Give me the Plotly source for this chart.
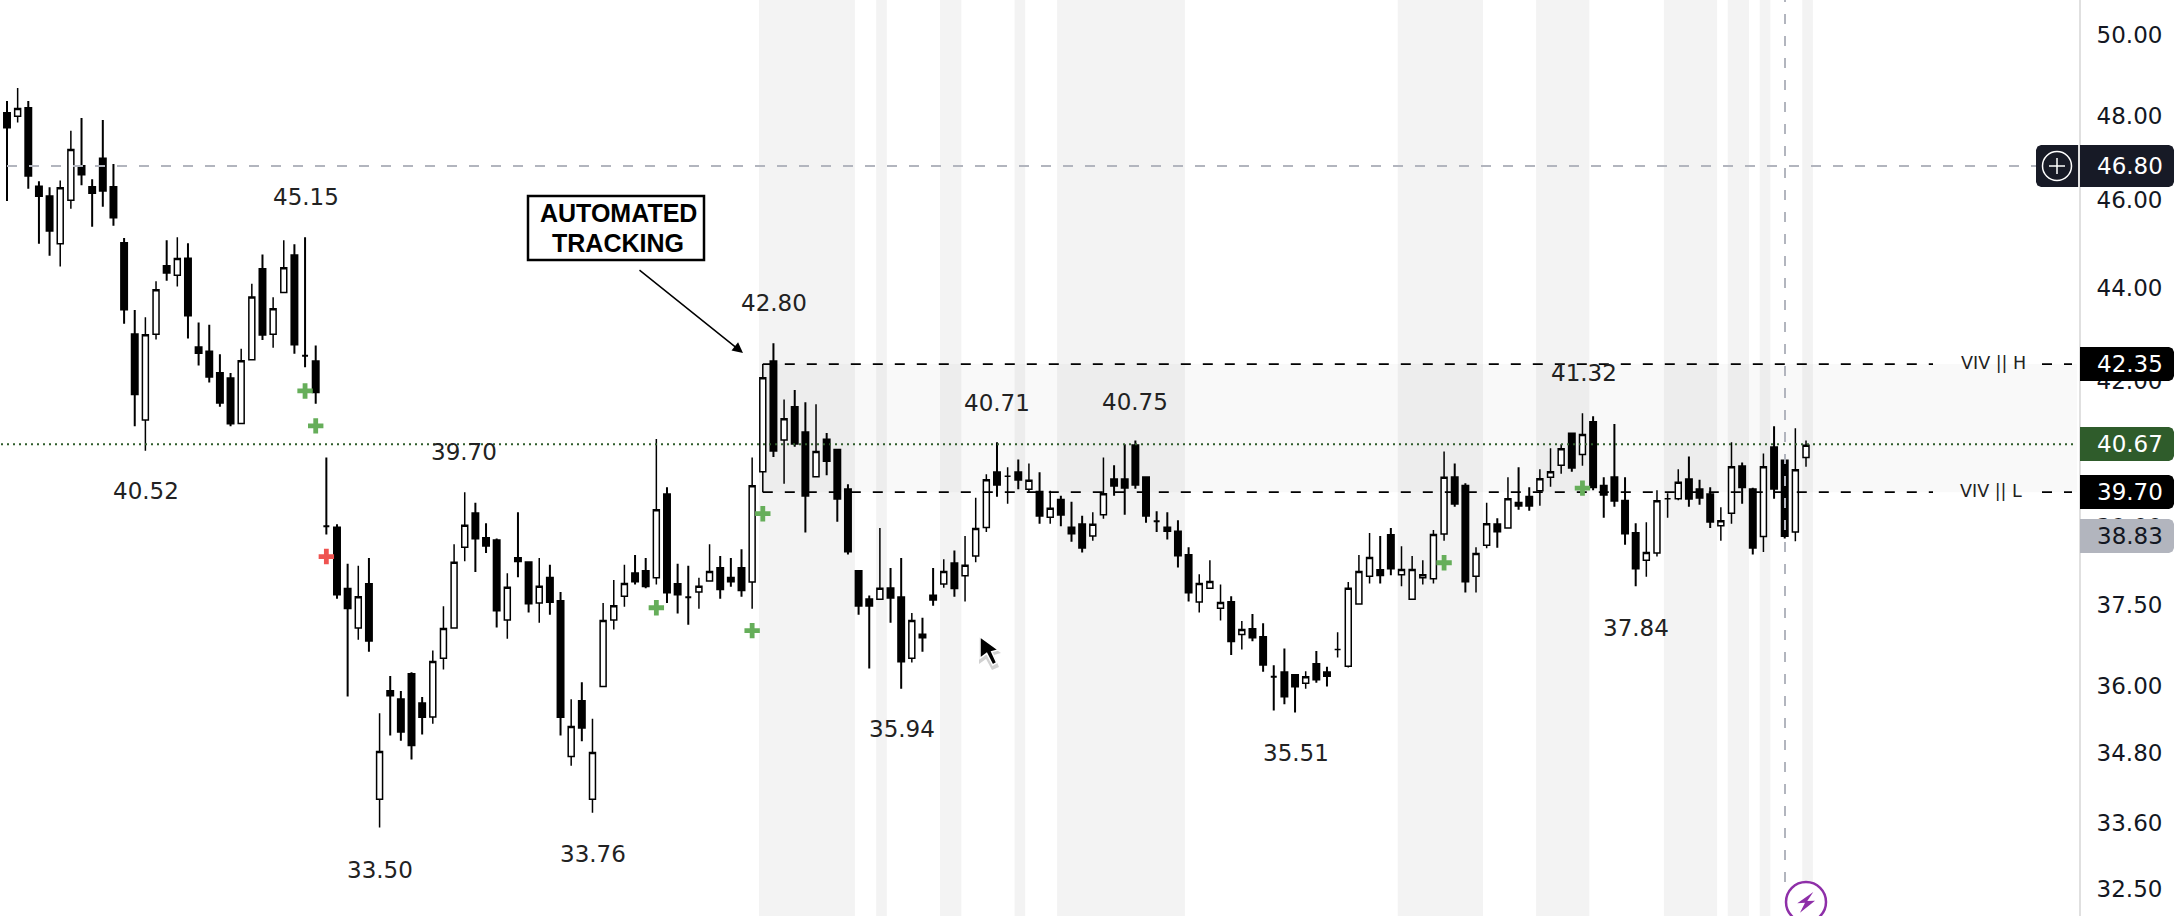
import plotly.graph_objects as go

open_prices = [
    48.07, 47.99, 48.19, 46.32, 46.09, 45.00, 46.00, 46.80, 46.31, 46.98,
    46.31, 45.02, 42.99, 41.17, 42.99, 44.50, 44.29, 44.67, 42.71, 42.62,
    42.16, 42.05, 41.10, 42.44, 44.43, 42.99, 43.91, 44.74, 42.53, 42.41,
    39.02, 39.00, 37.81, 37.07, 37.90, 34.00, 35.91, 35.76, 36.22, 35.69,
    35.44, 36.51, 37.07, 38.61, 39.28, 38.79, 38.75, 37.22, 38.40, 38.32,
    37.54, 38.02, 37.58, 34.74, 35.73, 34.00, 35.99, 37.22, 37.67, 38.11,
    38.15, 38.02, 39.66, 37.90, 37.65, 37.75, 37.96, 38.21, 38.02, 38.21,
    37.94, 40.11, 42.41, 40.76, 41.44, 40.92, 40.01, 40.77, 40.56, 39.76,
    38.15, 37.61, 37.61, 37.82, 37.65, 36.51, 36.95, 37.68, 37.90, 38.30,
    38.06, 38.44, 39.00, 40.10, 40.02, 40.10, 39.76, 39.71, 39.20, 39.55,
    39.00, 39.06, 38.83, 39.25, 39.96, 39.96, 40.65, 40.00, 39.12, 39.00,
    38.92, 38.46, 37.56, 37.82, 37.44, 37.56, 36.95, 37.05, 36.90, 36.17,
    36.25, 36.20, 36.05, 36.40, 36.25, 36.67, 36.36, 37.52, 38.05, 38.17,
    38.85, 38.08, 37.61, 38.02, 38.00, 38.87, 40.00, 39.83, 38.05, 38.65,
    39.06, 38.99, 39.49, 39.61, 39.73, 40.00, 40.24, 40.89, 40.46, 41.13,
    39.83, 40.00, 39.53, 38.89, 38.36, 38.50, 39.57, 39.57, 39.96, 39.76,
    39.66, 39.03, 39.28, 40.22, 39.76, 38.82, 40.61, 40.34, 38.91, 40.40,
]
high_prices = [
    48.36, 48.68, 48.36, 46.44, 46.30, 46.46, 47.64, 47.95, 46.49, 47.90,
    46.85, 45.13, 43.52, 43.36, 44.16, 45.08, 45.15, 45.01, 43.25, 43.20,
    42.56, 42.16, 42.68, 44.10, 44.76, 43.80, 45.08, 44.99, 45.15, 42.75,
    40.40, 39.06, 38.29, 38.25, 38.40, 35.51, 36.18, 35.91, 36.25, 35.80,
    36.65, 37.48, 38.67, 39.70, 39.49, 39.08, 38.78, 38.11, 39.30, 38.32,
    38.40, 38.27, 37.75, 35.76, 36.07, 35.41, 37.54, 37.98, 38.27, 38.46,
    38.40, 40.78, 39.80, 38.29, 38.25, 38.02, 38.67, 38.44, 38.40, 38.57,
    40.40, 42.35, 42.80, 41.60, 41.80, 41.54, 41.50, 40.90, 40.56, 39.86,
    38.15, 37.68, 38.99, 38.21, 38.40, 37.35, 37.26, 38.21, 38.38, 38.55,
    38.83, 39.59, 40.06, 40.71, 40.20, 40.36, 40.28, 40.10, 39.73, 39.63,
    39.51, 39.23, 39.30, 40.40, 40.24, 40.67, 40.75, 40.00, 39.32, 39.30,
    39.14, 38.61, 38.09, 38.36, 37.89, 37.67, 37.20, 37.33, 37.16, 36.38,
    36.69, 36.20, 36.27, 36.64, 36.35, 36.99, 37.94, 38.46, 38.89, 38.83,
    38.99, 38.63, 38.44, 38.36, 38.95, 40.52, 40.28, 39.88, 38.61, 39.49,
    39.18, 40.00, 40.20, 39.80, 40.16, 40.59, 40.67, 40.89, 41.31, 41.25,
    40.00, 41.09, 40.00, 39.08, 39.10, 39.74, 39.68, 40.16, 40.42, 39.95,
    39.80, 39.40, 40.71, 40.30, 39.79, 40.48, 41.04, 40.34, 41.00, 40.75,
]
low_prices = [
    45.98, 47.84, 46.27, 45.00, 44.73, 44.49, 45.80, 46.35, 45.39, 45.85,
    45.41, 43.22, 41.04, 40.54, 42.88, 44.17, 44.04, 42.90, 42.32, 41.96,
    41.45, 41.04, 41.10, 42.44, 42.87, 42.70, 43.91, 42.57, 42.28, 41.51,
    38.86, 37.62, 35.81, 36.85, 36.63, 33.52, 35.11, 35.02, 34.69, 35.13,
    35.32, 36.30, 37.07, 38.34, 38.13, 38.50, 37.08, 36.87, 38.03, 37.36,
    37.17, 37.32, 35.11, 34.58, 35.01, 33.77, 35.99, 37.04, 37.47, 37.89,
    37.82, 37.89, 37.54, 37.34, 37.13, 37.43, 37.96, 37.62, 37.85, 37.66,
    37.43, 39.70, 40.41, 39.87, 40.62, 38.90, 40.01, 40.04, 39.11, 38.47,
    37.32, 36.32, 37.61, 37.17, 35.95, 36.43, 36.63, 37.49, 37.83, 37.66,
    37.57, 38.32, 38.91, 39.61, 39.47, 39.76, 39.70, 39.07, 39.07, 39.02,
    38.72, 38.51, 38.74, 39.17, 39.63, 39.25, 39.77, 39.09, 38.91, 38.76,
    38.22, 37.57, 37.36, 37.82, 37.21, 36.57, 36.67, 36.82, 36.26, 35.56,
    35.67, 35.52, 35.95, 36.06, 35.99, 36.52, 36.34, 37.52, 37.91, 37.91,
    38.07, 37.86, 37.61, 37.89, 37.91, 38.74, 39.41, 37.74, 37.74, 38.59,
    38.60, 38.99, 39.35, 39.33, 39.43, 39.81, 40.07, 40.11, 40.23, 39.74,
    39.19, 39.41, 38.66, 37.86, 38.04, 38.43, 39.19, 39.54, 39.41, 39.45,
    38.99, 38.74, 39.07, 39.47, 38.47, 38.52, 39.57, 38.78, 38.73, 40.21,
]
close_prices = [
    47.72, 48.18, 46.57, 46.10, 45.30, 46.29, 47.19, 46.60, 46.17, 46.22,
    45.60, 43.53, 41.71, 42.98, 43.97, 44.35, 44.67, 43.40, 42.59, 42.08,
    41.53, 41.10, 42.42, 43.81, 42.98, 43.55, 44.46, 42.77, 42.53, 41.75,
    39.02, 37.70, 37.44, 37.66, 36.83, 34.83, 35.83, 35.18, 34.94, 35.44,
    36.45, 37.06, 38.32, 39.04, 38.78, 38.64, 37.40, 37.84, 38.34, 37.53,
    37.86, 37.56, 35.44, 35.27, 35.25, 34.81, 37.21, 37.49, 37.91, 37.95,
    37.86, 39.35, 37.74, 37.70, 37.65, 37.86, 38.14, 37.80, 37.95, 37.78,
    39.83, 42.06, 40.54, 41.20, 40.68, 39.63, 40.52, 40.33, 39.57, 38.53,
    37.49, 37.49, 37.82, 37.64, 36.45, 37.21, 36.89, 37.60, 38.14, 37.82,
    38.26, 38.98, 39.95, 39.85, 40.02, 39.95, 39.94, 39.23, 39.38, 39.25,
    38.88, 38.60, 39.06, 39.67, 39.83, 39.79, 39.85, 39.23, 39.12, 38.93,
    38.45, 37.74, 37.91, 37.95, 37.55, 36.82, 37.04, 36.89, 36.39, 36.17,
    35.81, 35.99, 36.17, 36.12, 36.18, 36.67, 37.82, 38.14, 38.41, 38.07,
    38.20, 38.18, 38.18, 38.08, 38.86, 40.00, 39.47, 37.95, 38.49, 39.07,
    38.92, 39.57, 39.43, 39.43, 39.97, 40.11, 40.58, 40.19, 40.87, 39.80,
    39.65, 39.53, 38.88, 38.20, 38.51, 39.53, 39.57, 39.90, 39.57, 39.59,
    39.11, 39.13, 40.21, 39.80, 38.60, 40.21, 39.77, 38.83, 40.15, 40.65,
]

# first and one-past-last candle of each shaded session
shade_start = [71, 82, 88, 95, 99, 131, 144, 156, 162, 165, 169]
shade_end = [80, 83, 90, 96, 111, 139, 149, 161, 164, 166, 170]

buy_x = [28, 29, 61, 70, 71, 135, 148]
buy_y = [41.78, 41.05, 37.45, 37.02, 39.27, 38.31, 39.78]
sell_x = [30]
sell_y = [38.43]

tick_values = [50, 48, 46, 44, 42, 40.5, 39, 37.5, 36, 34.8, 33.6, 32.5]
tick_labels = ["50.00", "48.00", "46.00", "44.00", "42.00", "40.50", "39.00", "37.50", "36.00", "34.80", "33.60", "32.50"]

alert_level = 46.80
last_level = 40.67
viv_high = 42.35
viv_low = 39.70
pivot_labels = ["45.15", "40.52", "39.70", "33.50", "33.76", "42.80", "40.71", "40.75", "35.94", "35.51", "41.32", "37.84"]
pivot_px = [(306, 197), (146, 491), (464, 452), (380, 870), (593, 854), (774, 303),
            (997, 403), (1135, 402), (902, 729), (1296, 753), (1584, 373), (1636, 628)]

WIDTH = 2182
HEIGHT = 916
PLOT_W = 2079
FONT = "DejaVu Sans"
GREY = "#b2b5be"
GREEN = "#2f5c2b"


def px(x):
    return x / PLOT_W


def py(y):
    return 1 - y / HEIGHT


def poly(points):
    return "M" + " L".join(f"{px(x):.5f},{py(y):.5f}" for x, y in points) + " Z"


def badge_path(x0, y0, x1, y1, left_r=0, right_r=5):
    pts = [(x0 + left_r, y0), (x1 - right_r, y0), (x1 - right_r * 0.3, y0 + right_r * 0.3), (x1, y0 + right_r),
           (x1, y1 - right_r), (x1 - right_r * 0.3, y1 - right_r * 0.3), (x1 - right_r, y1),
           (x0 + left_r, y1), (x0 + left_r * 0.3, y1 - left_r * 0.3), (x0, y1 - left_r),
           (x0, y0 + left_r), (x0 + left_r * 0.3, y0 + left_r * 0.3)]
    return poly(pts)


def to_x(pixel):
    return (pixel - 7) / 10.645


fig = go.Figure()

# session shading and the tracked zone sit behind the candles
for s, e in zip(shade_start, shade_end):
    fig.add_shape(type="rect", xref="x", yref="paper", x0=s - 0.35, x1=e - 0.35, y0=0, y1=1,
                  fillcolor="#f3f3f3", line_width=0, layer="below")
fig.add_shape(type="rect", xref="x", yref="y", x0=71, x1=to_x(2077), y0=viv_low, y1=viv_high,
              fillcolor="rgba(0,0,0,0.025)", line_width=0, layer="below")
fig.add_shape(type="path", xref="paper", yref="paper", fillcolor="white", line_width=0, layer="below",
              path=poly([(1934, 350), (2042, 350), (2042, 383), (1946, 383), (1934, 370)]))
fig.add_shape(type="path", xref="paper", yref="paper", fillcolor="white", line_width=0, layer="below",
              path=poly([(1934, 498), (2038, 498), (2038, 472), (1946, 472), (1934, 485)]))

fig.add_trace(go.Candlestick(
    x=list(range(len(open_prices))),
    open=open_prices, high=high_prices, low=low_prices, close=close_prices,
    increasing=dict(line=dict(color="black", width=1.5), fillcolor="white"),
    decreasing=dict(line=dict(color="black", width=2), fillcolor="black"),
    whiskerwidth=0,
    hoverinfo="skip",
))

level_dash = "10px,12px"
for x0, x1, level in [(71, to_x(1933), viv_high), (to_x(2042), to_x(2072), viv_high),
                      (71, to_x(1933), viv_low), (to_x(2042), to_x(2072), viv_low)]:
    fig.add_trace(go.Scatter(x=[x0, x1], y=[level, level], mode="lines", hoverinfo="skip",
                             line=dict(color="black", width=1.8, dash=level_dash)))
fig.add_trace(go.Scatter(x=[0, to_x(2036)], y=[alert_level, alert_level], mode="lines", hoverinfo="skip",
                         line=dict(color=GREY, width=2, dash=level_dash)))
fig.add_trace(go.Scatter(x=[to_x(1), to_x(2076)], y=[last_level, last_level], mode="lines", hoverinfo="skip",
                         line=dict(color=GREEN, width=2, dash="2px,4px")))
fig.add_trace(go.Scatter(x=buy_x, y=buy_y, mode="markers", hoverinfo="skip",
                         marker=dict(symbol="cross-thin", size=11, line=dict(color="#66ae5a", width=4.8))))
fig.add_trace(go.Scatter(x=sell_x, y=sell_y, mode="markers", hoverinfo="skip",
                         marker=dict(symbol="cross-thin", size=11, line=dict(color="#ef5350", width=4.8))))

# crosshair, over the candles
fig.add_shape(type="line", xref="x", yref="paper", x0=to_x(1785), x1=to_x(1785), y0=py(882), y1=1,
              line=dict(color=GREY, width=2, dash=level_dash), layer="above")

# price badges on the axis
badges = [
    (145, 187, "46.80", "#171a26", "white"),
    (347, 381, "42.35", "black", "white"),
    (427, 461, "40.67", GREEN, "white"),
    (475, 509, "39.70", "black", "white"),
    (519, 553, "38.83", GREY, "#131722"),
]
for y0, y1, label, fill, text_color in badges:
    fig.add_shape(type="path", xref="paper", yref="paper", fillcolor=fill, line_width=0, layer="above",
                  path=badge_path(2080, y0, 2174, y1))
    fig.add_annotation(xref="paper", yref="paper", x=px(2095), y=py((y0 + y1) / 2), text=label, showarrow=False,
                       xanchor="left", yanchor="middle", font=dict(family=FONT, size=23, color=text_color))

# plus button beside the alert price
fig.add_shape(type="path", xref="paper", yref="paper", fillcolor="#171a26", line_width=0, layer="above",
              path=badge_path(2036, 145, 2079, 187, left_r=5, right_r=0))
fig.add_shape(type="line", xref="paper", yref="paper", x0=px(2079), x1=px(2079), y0=py(145), y1=py(187),
              line=dict(color="#e0e0e0", width=2), layer="above")
fig.add_shape(type="circle", xref="paper", yref="paper", x0=px(2042.5), x1=px(2071.5), y0=py(151.5), y1=py(180.5),
              line=dict(color="white", width=1.5), layer="above")
fig.add_shape(type="line", xref="paper", yref="paper", x0=px(2049), x1=px(2065), y0=py(166), y1=py(166),
              line=dict(color="white", width=1.5), layer="above")
fig.add_shape(type="line", xref="paper", yref="paper", x0=px(2057), x1=px(2057), y0=py(158), y1=py(174),
              line=dict(color="white", width=1.5), layer="above")

for label, (x, y) in zip(pivot_labels, pivot_px):
    fig.add_annotation(xref="paper", yref="paper", x=px(x), y=py(y), text=label, showarrow=False,
                       xanchor="center", yanchor="middle", font=dict(family=FONT, size=23, color="#222222"))

fig.add_annotation(xref="paper", yref="paper", x=px(1993), y=py(363), text="VIV || H", showarrow=False,
                   xanchor="center", yanchor="middle", font=dict(family=FONT, size=17.5, color="#222222"))
fig.add_annotation(xref="paper", yref="paper", x=px(1991), y=py(491), text="VIV || L", showarrow=False,
                   xanchor="center", yanchor="middle", font=dict(family=FONT, size=17.5, color="#222222"))

# callout box and arrow
fig.add_shape(type="rect", xref="paper", yref="paper", x0=px(528), x1=px(704), y0=py(196), y1=py(260),
              fillcolor="white", line=dict(color="black", width=2.5), layer="above")
for line_text, line_y in [("AUTOMATED", 213), ("TRACKING", 243)]:
    fig.add_annotation(xref="paper", yref="paper", x=px(618), y=py(line_y), text=f"<b>{line_text}</b>",
                       showarrow=False, xanchor="center", yanchor="middle",
                       font=dict(family="Liberation Sans", size=25, color="black"))
fig.add_annotation(xref="paper", yref="paper", x=px(743), y=py(353), ax=638 - 743, ay=269 - 353, text="",
                   showarrow=True, arrowhead=2, arrowsize=1.4, arrowwidth=1.5, arrowcolor="black")

# mouse pointer with its soft shadow
fig.add_shape(type="path", xref="paper", yref="paper", fillcolor="rgba(0,0,0,0.18)", line_width=0, layer="above",
              path=poly([(979, 637), (979, 664), (986, 659), (992, 670), (999, 667), (994, 655), (1001, 653)]))
fig.add_shape(type="path", xref="paper", yref="paper", fillcolor="black", line=dict(color="white", width=1.5),
              layer="above",
              path=poly([(980, 636.7), (980, 658.3), (986.7, 653.3), (992.7, 665), (996.7, 662.7), (991.7, 651.7), (998.3, 650)]))

# lightning badge at the foot of the last candle
fig.add_shape(type="circle", xref="paper", yref="paper", x0=px(1786), x1=px(1826), y0=py(882), y1=py(922),
              fillcolor="white", line=dict(color="#8e2fa8", width=2.5), layer="above")
fig.add_shape(type="path", xref="paper", yref="paper", fillcolor="#8e2fa8", line_width=0, layer="above",
              path=poly([(1813.3, 892), (1797.3, 903.3), (1805, 902.7), (1800, 912.7), (1815, 900.7), (1807.3, 901)]))

fig.update_layout(
    width=WIDTH,
    height=HEIGHT,
    autosize=False,
    margin=dict(l=0, r=WIDTH - PLOT_W, t=0, b=0),
    plot_bgcolor="white",
    paper_bgcolor="white",
    showlegend=False,
    boxgap=0.44,
    boxgroupgap=0,
    font=dict(family=FONT, color="#131722"),
    hovermode=False,
)
fig.update_xaxes(visible=False, range=[to_x(0), to_x(PLOT_W)], rangeslider_visible=False, showgrid=False, zeroline=False)
fig.update_yaxes(
    type="log",
    side="right",
    range=[1.50590, 1.70664],
    tickmode="array",
    tickvals=tick_values,
    ticktext=tick_labels,
    tickfont=dict(family=FONT, size=23, color="#131722"),
    ticks="",
    ticklabelstandoff=11,
    showgrid=False,
    zeroline=False,
    showline=True,
    linecolor="#e0e0e0",
    linewidth=2,
)

fig.write_html("out.html", config=dict(displayModeBar=False),
               post_script="document.body.style.margin='0';document.documentElement.style.overflow='hidden';")
